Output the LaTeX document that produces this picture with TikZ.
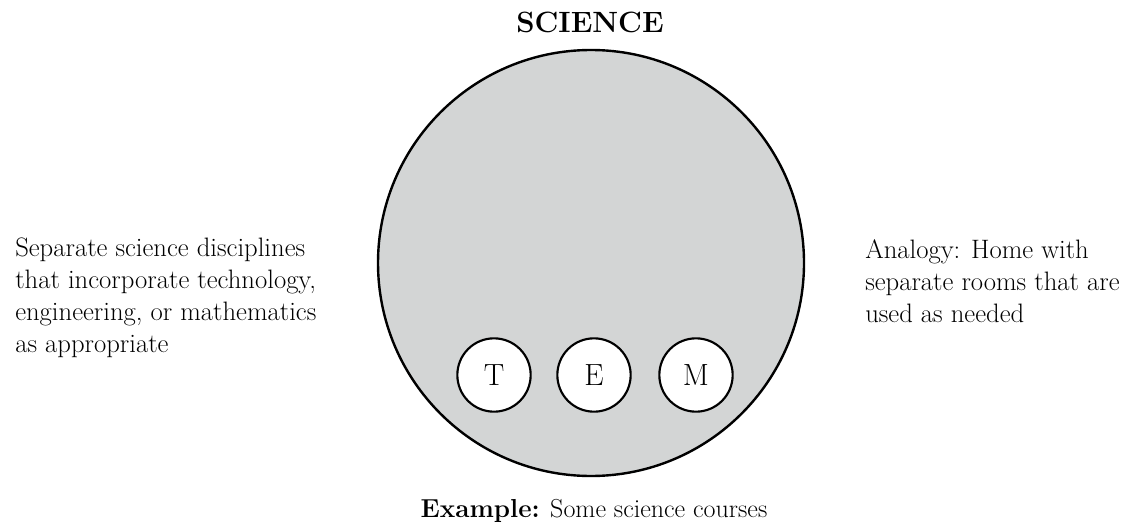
\documentclass[tikz,border=0pt]{standalone}
\usepackage{tikz}
\tikzset{
  disc/.style={circle, draw=black, line width=1.6pt, fill=white, minimum size=55pt, inner sep=0pt, font=\fontsize{23}{26}\selectfont},
  note/.style={align=left, inner sep=0pt, anchor=north west, font=\fontsize{20}{24}\selectfont}
}
\definecolor{scigray}{RGB}{211,213,213}
\begin{document}
\begin{tikzpicture}[x=0.75pt, y=-0.75pt]
\useasboundingbox (0,0) rectangle (1130,524);
\coordinate (c) at (591,263);
\fill[scigray] (c) circle (213);
\draw[line width=1.8pt] (c) circle (213);
\node[font=\fontsize{22}{26}\selectfont\bfseries] (title) at (590,22) {SCIENCE};
\node[disc] (t) at (494,375) {T};
\node[disc] (e) at (594,375) {E};
\node[disc] (m) at (696,375) {M};
\node[note] (left) at (15,238) {Separate science disciplines\\that incorporate technology,\\engineering, or mathematics\\as appropriate};
\node[note] (right) at (865,239) {Analogy: Home with\\separate rooms that are\\used as needed};
\node[font=\fontsize{19.5}{24}\selectfont, anchor=base] (ex) at (594,517) {\textbf{Example:} Some science courses};
\end{tikzpicture}
\end{document}
